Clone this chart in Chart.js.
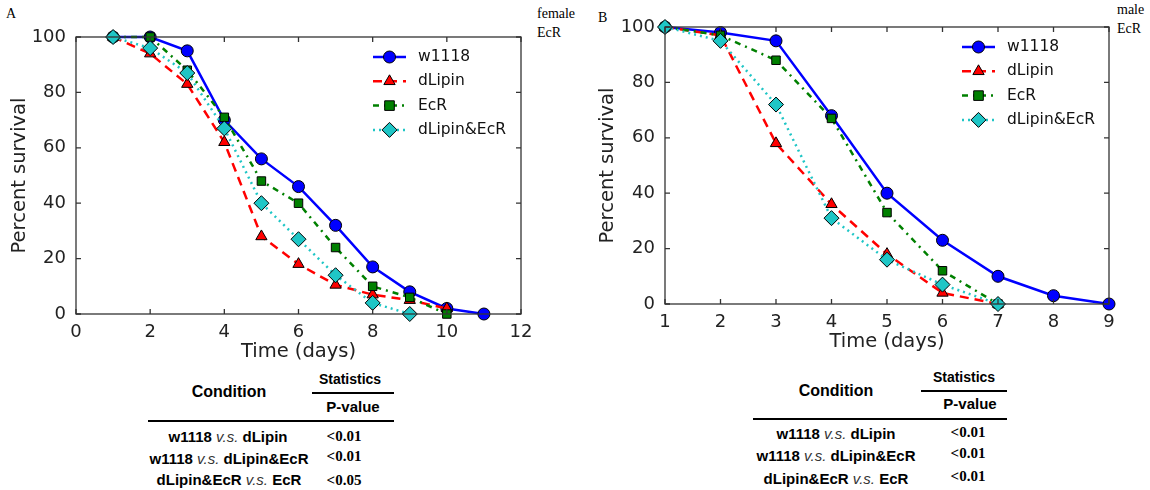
<!DOCTYPE html>
<html>
<head>
<meta charset="utf-8">
<script src="https://cdn.jsdelivr.net/npm/chart.js@4.4.1/dist/chart.umd.min.js"></script>
<style>
  body { margin: 0; background: #fff; width: 1150px; height: 490px; position: relative; overflow: hidden; }
  .lbl { position: absolute; font-family: "Liberation Serif", serif; font-size: 14px; line-height: 19px; color: #000; }
  .t { position: absolute; font-family: "Liberation Sans", Arial, sans-serif; font-weight: bold; color: #000; white-space: nowrap; transform: translateX(-50%); }
  .t i { font-weight: normal; color: #333; }
  .p { position: absolute; font-family: "Liberation Serif", serif; font-weight: bold; font-size: 15px; white-space: nowrap; transform: translateX(-50%); }
  .hr { position: absolute; background: #000; }
</style>
</head>
<body>
<div class="lbl" style="left:6px;top:4px;">A</div>
<div class="lbl" style="left:537px;top:4px;">female<br>EcR</div>
<div class="lbl" style="left:598px;top:8px;">B</div>
<div class="lbl" style="left:1117px;top:0px;">male<br>EcR</div>

<canvas id="chartA" style="position:absolute;left:0;top:0;"></canvas>
<canvas id="chartB" style="position:absolute;left:580px;top:0;"></canvas>

<!-- tabla A -->
<div class="t" style="left:229px;top:383px;font-size:16px;">Condition</div>
<div class="t" style="left:350px;top:371px;font-size:14px;">Statistics</div>
<div class="hr" style="left:312px;top:392px;width:82px;height:2px;"></div>
<div class="t" style="left:353px;top:398px;font-size:15px;">P-value</div>
<div class="hr" style="left:148px;top:420px;width:246px;height:2px;"></div>
<div class="t" style="left:228px;top:428px;font-size:15px;">w1118 <i>v.s.</i> dLipin</div>
<div class="p" style="left:344px;top:428px;">&lt;0.01</div>
<div class="t" style="left:229px;top:450px;font-size:15px;">w1118 <i>v.s.</i> dLipin&amp;EcR</div>
<div class="p" style="left:344px;top:448px;">&lt;0.01</div>
<div class="t" style="left:229px;top:471px;font-size:15px;">dLipin&amp;EcR <i>v.s.</i> EcR</div>
<div class="p" style="left:344px;top:472px;">&lt;0.05</div>

<!-- tabla B -->
<div class="t" style="left:836px;top:382px;font-size:16px;">Condition</div>
<div class="t" style="left:964px;top:369px;font-size:14px;">Statistics</div>
<div class="hr" style="left:921px;top:390px;width:86px;height:2px;"></div>
<div class="t" style="left:970px;top:395px;font-size:15px;">P-value</div>
<div class="hr" style="left:753px;top:418px;width:254px;height:2px;"></div>
<div class="t" style="left:836px;top:425px;font-size:15px;">w1118 <i>v.s.</i> dLipin</div>
<div class="p" style="left:968px;top:424px;">&lt;0.01</div>
<div class="t" style="left:836px;top:447px;font-size:15px;">w1118 <i>v.s.</i> dLipin&amp;EcR</div>
<div class="p" style="left:968px;top:445px;">&lt;0.01</div>
<div class="t" style="left:836px;top:470px;font-size:15px;">dLipin&amp;EcR <i>v.s.</i> EcR</div>
<div class="p" style="left:968px;top:468px;">&lt;0.01</div>

<script>
// hembras (A)
const diasA = [1, 2, 3, 4, 5, 6, 7, 8, 9, 10, 11];
const w1118A = [100, 100, 95, 70, 56, 46, 32, 17, 8, 2, 0];
const dLipinA = [100, 94, 83, 62, 28, 18, 10.5, 7, 5, 2];
const ecrA = [100, 100, 88, 71, 48, 40, 24, 10, 6, 0];
const dLipinEcrA = [100, 96, 87, 67, 40, 27, 14, 4, 0];

// machos (B)
const diasB = [1, 2, 3, 4, 5, 6, 7, 8, 9];
const w1118B = [100, 98, 95, 68, 40, 23, 10, 3, 0];
const dLipinB = [100, 97, 58, 36, 18, 4, 0];
const ecrB = [100, 97, 88, 67, 33, 12, 0];
const dLipinEcrB = [100, 95, 72, 31, 16, 7, 0];

const nombres = ["w1118", "dLipin", "EcR", "dLipin&EcR"];
const estilos = [
  { color: "#0000ff", dash: [], point: "circle", radius: 6 },
  { color: "#ff0000", dash: [9, 6], point: "triangle", radius: 6.5 },
  { color: "#008000", dash: [6, 5, 2, 5], point: "rect", radius: 6 },
  { color: "#1fc6c6", dash: [2, 4], point: "rectRot", radius: 7.5 }
];

function puntos(dias, valores) {
  return valores.map((v, i) => ({ x: dias[i], y: v }));
}

function dibujarMarca(ctx, estilo, x, y) {
  const r = estilo.radius;
  ctx.save();
  ctx.fillStyle = estilo.color;
  ctx.strokeStyle = "#000";
  ctx.lineWidth = 1;
  ctx.setLineDash([]);
  ctx.beginPath();
  if (estilo.point === "circle") {
    ctx.arc(x, y, r, 0, Math.PI * 2);
  } else if (estilo.point === "triangle") {
    ctx.moveTo(x, y - r);
    ctx.lineTo(x + r * 0.87, y + r * 0.5);
    ctx.lineTo(x - r * 0.87, y + r * 0.5);
    ctx.closePath();
  } else if (estilo.point === "rect") {
    ctx.rect(x - r * 0.8, y - r * 0.8, r * 1.6, r * 1.6);
  } else {
    ctx.moveTo(x, y - r);
    ctx.lineTo(x + r, y);
    ctx.lineTo(x, y + r);
    ctx.lineTo(x - r, y);
    ctx.closePath();
  }
  ctx.fill();
  ctx.stroke();
  ctx.restore();
}

// caja, marcas hacia dentro y leyenda
const pluginMarco = {
  id: "marco",
  afterDraw(chart) {
    const ctx = chart.ctx;
    const a = chart.chartArea;
    ctx.save();
    ctx.strokeStyle = "#333";
    ctx.lineWidth = 1.3;
    ctx.strokeRect(a.left, a.top, a.right - a.left, a.bottom - a.top);
    const xs = chart.scales.x, ys = chart.scales.y;
    ctx.beginPath();
    xs.ticks.forEach(t => {
      const px = xs.getPixelForValue(t.value);
      ctx.moveTo(px, a.bottom); ctx.lineTo(px, a.bottom - 5);
      ctx.moveTo(px, a.top); ctx.lineTo(px, a.top + 5);
    });
    ys.ticks.forEach(t => {
      const py = ys.getPixelForValue(t.value);
      ctx.moveTo(a.left, py); ctx.lineTo(a.left + 5, py);
      ctx.moveTo(a.right, py); ctx.lineTo(a.right - 5, py);
    });
    ctx.stroke();

    // leyenda
    const x0 = a.left + 297;
    let y0 = a.top + 20;
    ctx.font = "15.5px 'DejaVu Sans'";
    ctx.textBaseline = "middle";
    nombres.forEach((n, i) => {
      const e = estilos[i];
      ctx.save();
      ctx.strokeStyle = e.color;
      ctx.lineWidth = 2.5;
      ctx.setLineDash(e.dash);
      ctx.beginPath();
      ctx.moveTo(x0, y0);
      ctx.lineTo(x0 + 33, y0);
      ctx.stroke();
      ctx.restore();
      dibujarMarca(ctx, e, x0 + 16.5, y0);
      ctx.fillStyle = "#111";
      ctx.fillText(n, x0 + 45, y0);
      y0 += 24.3;
    });
    ctx.restore();
  }
};

function crearGrafico(id, ancho, alto, dias, series, xMin, xMax, xPaso, padding) {
  const canvas = document.getElementById(id);
  canvas.width = ancho;
  canvas.height = alto;
  canvas.style.width = ancho + "px";
  canvas.style.height = alto + "px";
  return new Chart(canvas.getContext("2d"), {
    type: "line",
    data: {
      datasets: series.map((s, i) => ({
        label: nombres[i],
        data: puntos(dias, s),
        borderColor: estilos[i].color,
        backgroundColor: estilos[i].color,
        borderDash: estilos[i].dash,
        borderWidth: 2.5,
        pointStyle: estilos[i].point,
        pointRadius: estilos[i].radius,
        pointBorderColor: "#000",
        pointBorderWidth: 1,
        pointBackgroundColor: estilos[i].color,
        tension: 0,
        fill: false,
        clip: false,
        order: 3 - i
      }))
    },
    options: {
      responsive: false,
      animation: false,
      layout: { padding: padding },
      plugins: { legend: { display: false }, tooltip: { enabled: false } },
      scales: {
        x: {
          type: "linear",
          min: xMin,
          max: xMax,
          grid: { display: false },
          border: { display: false },
          ticks: { stepSize: xPaso, color: "#222", font: { family: "DejaVu Sans", size: 18 }, padding: 0 },
          title: { display: true, text: "Time (days)", color: "#222", font: { family: "DejaVu Sans", size: 19.5 }, padding: { top: 0, bottom: 1 } },
          afterFit: s => { s.height = 51; }
        },
        y: {
          min: 0,
          max: 100,
          grid: { display: false },
          border: { display: false },
          ticks: { stepSize: 20, color: "#222", font: { family: "DejaVu Sans", size: 18 }, padding: 2 },
          title: { display: true, text: "Percent survival", color: "#222", font: { family: "DejaVu Sans", size: 19.5 }, padding: { top: padding.titleX, bottom: 0 } },
          afterFit: s => { s.width = padding.yWidth; }
        }
      }
    },
    plugins: [pluginMarco]
  });
}

crearGrafico("chartA", 560, 365, diasA, [w1118A, dLipinA, ecrA, dLipinEcrA], 0, 12, 2,
  { top: 37, right: 39, left: 0, bottom: 0, yWidth: 76, titleX: 8 });
crearGrafico("chartB", 570, 355, diasB, [w1118B, dLipinB, ecrB, dLipinEcrB], 1, 9, 1,
  { top: 27, right: 41, left: 0, bottom: 0, yWidth: 85, titleX: 16 });
</script>
</body>
</html>
